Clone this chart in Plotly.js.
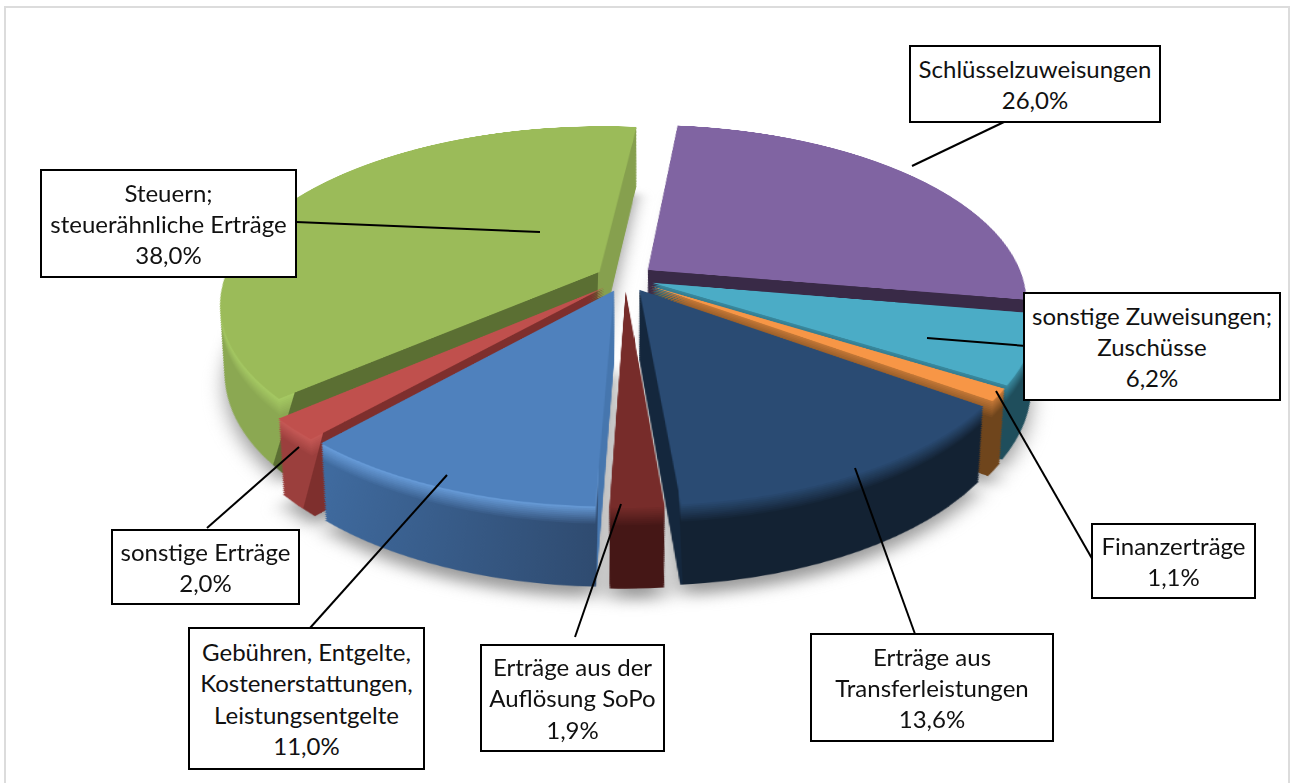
<!DOCTYPE html>
<html><head><meta charset="utf-8">
<script src="https://cdn.plot.ly/plotly-3.0.1.min.js"></script>
<style>
html,body{margin:0;padding:0;background:#fff;width:1290px;height:783px;overflow:hidden}
.plane{position:absolute;left:125px;top:-278px;width:1000px;height:1200px;
 transform-origin:500px 556px;transform:perspective(1900px) rotateX(62.5deg)}
#shadow{filter:blur(9px)}
#labels{position:absolute;left:0;top:0;width:1290px;height:783px}
#labels text{font-variant-ligatures:none}
</style></head><body>
<div id="shadow" class="plane"></div>
<div id="pie" class="plane"></div>
<div id="labels"></div>
<script>
// data
const categories=['Schlüsselzuweisungen','sonstige Zuweisungen;<br>Zuschüsse','Finanzerträge','Erträge aus<br>Transferleistungen','Erträge aus der<br>Auflösung SoPo','Gebühren, Entgelte,<br>Kostenerstattungen,<br>Leistungsentgelte','sonstige Erträge','Steuern;<br>steuerähnliche Erträge'];
const values=[26.0,6.2,1.1,13.6,1.9,11.0,2.0,38.0];
// styles
const faceColors=['#8064A2','#4BACC6','#F79646','#2A4B73','#772C2A','#4F81BD','#C0504D','#9BBB59'];
const explode=0.077, startAngle=6, layerCount=40, bevelLayers=10, depthPx=138, shrink=0.075;
const sideStops=[
 [[0,'#392A47',null],[1000,'#392A47',null]],
 [[0,'#1F4E5C','#3B8CA2'],[1000,'#1F4E5C','#3B8CA2']],
 [[0,'#6F451C','#C87A38'],[1000,'#6F451C','#C87A38']],
 [[0,'#14273D',null],[544,'#14273D',null],[544,'#132233','#2A4B73'],[1000,'#132233','#2A4B73']],
 [[0,'#451716','#772C2A'],[1000,'#451716','#772C2A']],
 [[0,'#3F6A9E','#6A9FDD'],[254,'#3F6A9E','#6A9FDD'],[478,'#2F4B70','#6A9FDD'],[478,'#4676AE',null],[1000,'#4676AE',null]],
 [[0,'#9B3F3D','#C85A57'],[239,'#9B3F3D','#C85A57'],[239,'#7E2F2D',null],[1000,'#7E2F2D',null]],
 [[0,'#8BA852','#A8CC65'],[204,'#8BA852','#A8CC65'],[204,'#5B6F33',null],[473,'#5B6F33',null],[473,'#86A04E',null],[1000,'#86A04E',null]]
];
const boxes=[[910,1160,46,122],[1024,1280,293,400],[1092,1255,524,598],[811,1053,634,741],[481,664,645,751],[189,424,628,769],[112,299,530,604],[41,296,170,277]];
const leaders=[[912,166,1004,122],[927,338,1026,346],[996,391,1094,562],[855,468,915,634],[621,504,575,637],[447,475,310,628],[299,447,207,528],[296,222,540,232]];
const fontFamily='Lato, "Open Sans", sans-serif', fontSize=24;

const domH=808/1200, baseY=0.2;
function layerTrace(k,colors){
  const s=k*depthPx/layerCount/1200, h=domH*(1-shrink*k/layerCount), c=baseY+domH/2-s;
  return {type:'pie',values:values,labels:categories,sort:false,direction:'clockwise',rotation:startAngle,
    pull:values.map(()=>explode),textinfo:'none',hoverinfo:'skip',
    domain:{x:[0,1],y:[c-h/2,c+h/2]},marker:{colors:colors,line:{width:0}}};
}
const planeLayout={width:1000,height:1200,margin:{l:0,r:0,t:0,b:0},showlegend:false,
  paper_bgcolor:'rgba(0,0,0,0)',plot_bgcolor:'rgba(0,0,0,0)'};
const cfg={staticPlot:true,displayModeBar:false};

Plotly.newPlot('shadow',[layerTrace(layerCount+5,values.map(()=>'#9a9a9a'))],planeLayout,cfg);

const traces=[];
for(let k=layerCount;k>=0;k--) traces.push(layerTrace(k,k===0?faceColors:values.map((_,i)=>sideStops[i][0][1])));
function hex(h){return [1,3,5].map(i=>parseInt(h.substr(i,2),16));}
function mix(a,b,t){const A=hex(a),B=hex(b);return 'rgb('+A.map((v,i)=>Math.round(v+(B[i]-v)*t)).join(',')+')';}
Plotly.newPlot('pie',traces,planeLayout,cfg).then(gd=>{
  const svg=gd.querySelector('svg.main-svg');
  const NS='http://www.w3.org/2000/svg';
  const defs=document.createElementNS(NS,'defs');svg.insertBefore(defs,svg.firstChild);
  function grad(id,i,t){
    const g=document.createElementNS(NS,'linearGradient');
    g.setAttribute('id',id);g.setAttribute('gradientUnits','userSpaceOnUse');
    g.setAttribute('x1',0);g.setAttribute('x2',1000);g.setAttribute('y1',0);g.setAttribute('y2',0);
    sideStops[i].forEach(st=>{
      const s=document.createElementNS(NS,'stop');
      s.setAttribute('offset',st[0]/1000);
      s.setAttribute('stop-color',st[2]?mix(st[2],st[1],t):st[1]);
      g.appendChild(s);
    });
    defs.appendChild(g);
  }
  const made={};
  gd.querySelectorAll('.pielayer .trace').forEach((tr,idx)=>{
    const k=layerCount-idx; if(k===0) return;
    const band=k<=bevelLayers?k:bevelLayers+1;
    const t=band>bevelLayers?1:k/bevelLayers;
    tr.querySelectorAll('.slice path.surface').forEach((p,i)=>{
      const id='side_'+band+'_'+i;
      if(!made[id]){grad(id,i,t);made[id]=1;}
      p.style.fill='url(#'+id+')';
    });
  });
});

const pct=values.map(v=>v.toFixed(1).replace('.',',')+'%');
const annotations=categories.map((c,i)=>{
  const b=boxes[i];
  return {xref:'x',yref:'y',x:(b[0]+b[1])/2,y:(b[2]+b[3])/2,xanchor:'center',yanchor:'middle',showarrow:false,
    text:c+'<br>'+pct[i],width:b[1]-b[0]-2,height:b[3]-b[2]-2,align:'center',valign:'middle',
    bgcolor:'#fff',bordercolor:'#000',borderwidth:2,borderpad:0,
    font:{family:fontFamily,size:fontSize,color:'#111'}};
});
const shapes=[{type:'rect',xref:'x',yref:'y',x0:5,x1:1289,y0:7,y1:790,line:{color:'#dcdcdc',width:2},fillcolor:'rgba(0,0,0,0)'}]
 .concat(leaders.map(l=>({type:'line',xref:'x',yref:'y',x0:l[0],y0:l[1],x1:l[2],y1:l[3],line:{color:'#000',width:2}})));
Plotly.newPlot('labels',[],{width:1290,height:783,margin:{l:0,r:0,t:0,b:0},showlegend:false,
  paper_bgcolor:'rgba(0,0,0,0)',plot_bgcolor:'rgba(0,0,0,0)',
  xaxis:{range:[0,1290],visible:false,fixedrange:true},yaxis:{range:[783,0],visible:false,fixedrange:true},
  annotations:annotations,shapes:shapes},cfg);
</script></body></html>
